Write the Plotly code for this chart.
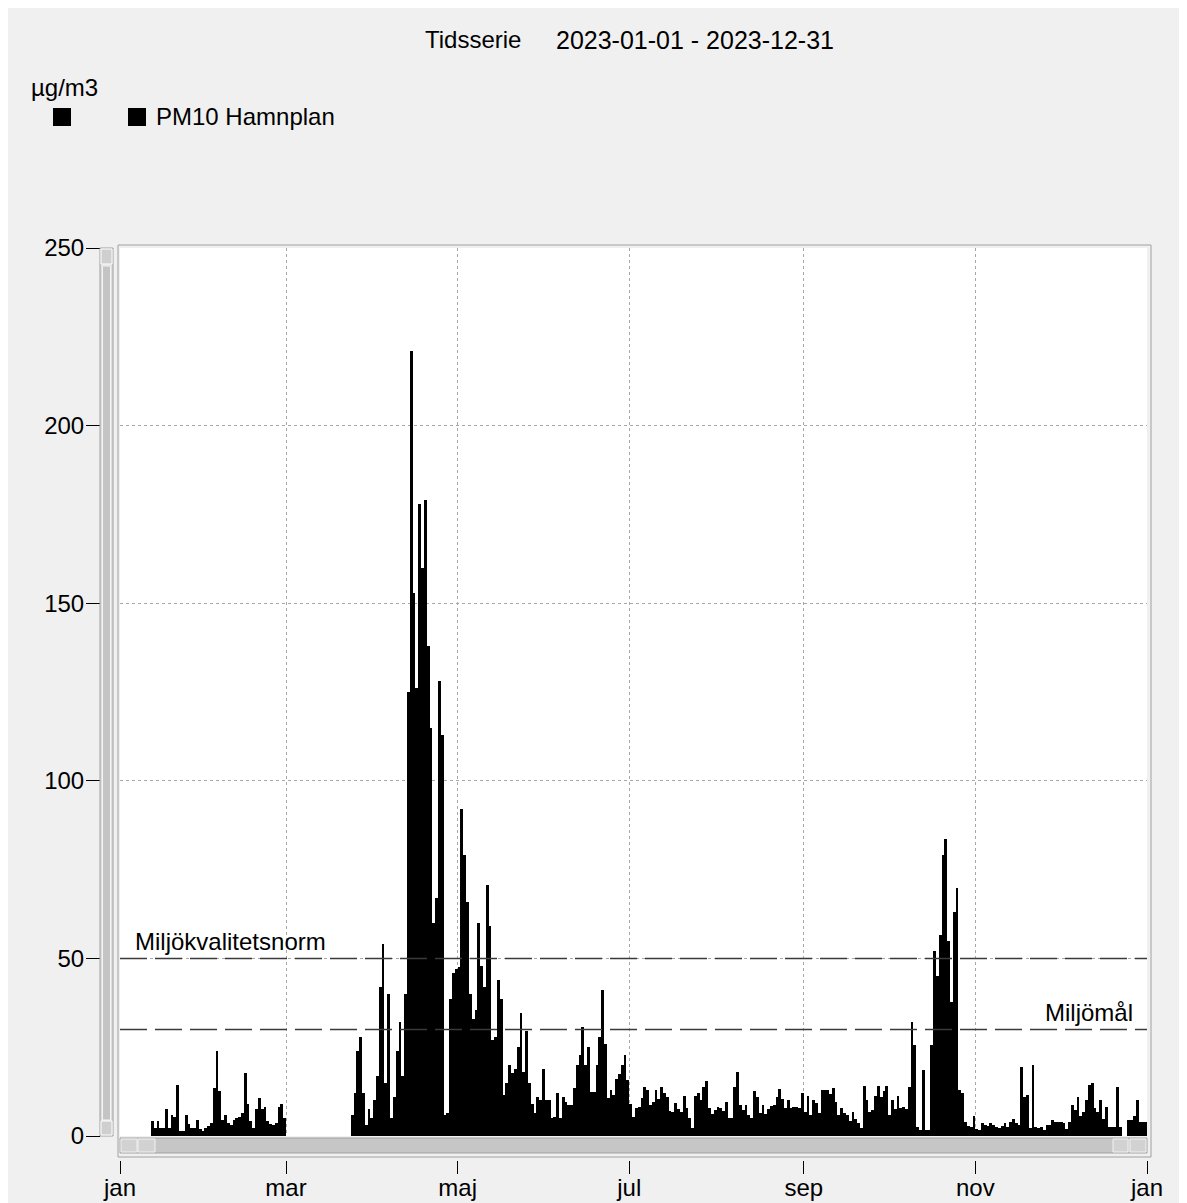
import pandas as pd
import plotly.graph_objects as go

# ---------------- data (daily PM10, µg/m3) ----------------
jan_feb_start = "2023-01-12"
jan_feb_vals = [4.2, 2.3, 4.2, 2.3, 2.3, 7.5, 2.3, 5.8, 5.4, 14.5,
                1.4, 1.4, 5.8, 3.3, 2.2, 2.2, 4.6, 1.9, 1.4, 2.3,
                2.8, 3.8, 13.6, 24, 12.7, 4.6, 5.8, 3.8, 3.1, 4.4,
                5.2, 5.4, 6.6, 17.8, 8.9, 4.2, 2.3, 7.5, 10.6, 7.5,
                8.3, 4.2, 3.3, 3.1, 3.8, 8.2, 8.9, 5.2]

mar_apr_start = "2023-03-24"
mar_apr_vals = [6, 12, 24, 28, 12, 3, 7.5, 5, 10, 17,
                42, 54, 15, 40, 5, 11, 24, 32, 17, 40,
                125, 221, 153, 126, 178, 160, 179, 138, 115, 60,
                67, 128, 113, 5.9, 6.6, 38.7, 46, 47]

maj_jun_start = "2023-05-01"
maj_jun_vals = [47.6, 92, 79, 66, 40, 33, 35.5, 60, 48, 42,
                70.6, 59, 27, 28, 44, 38.7, 11.5, 15, 20, 17.6,
                19, 25, 34.5, 18, 29.6, 15, 9, 6.6, 11, 10,
                19, 10, 10, 5, 5.3, 12, 5, 11, 9.7, 8.7,
                8.7, 13.4, 20, 22.8, 30.6, 20, 25, 12.5, 12.5, 20,
                28, 41, 26, 10.6, 13, 11.5, 16, 17.4, 20, 22.8,
                15.8]

jul_aug_start = "2023-07-01"
jul_aug_vals = [9, 5.4, 7.8, 8.3, 10.6, 13.9, 13, 8.7, 9.7, 13,
                10.3, 13.9, 12.2, 10.9, 7.1, 6.8, 9.2, 7.5, 6.8, 11.3,
                8, 5, 2.2, 11.3, 12.2, 10.1, 13.9, 15.6, 7.8, 6.2,
                7.3, 8.3, 7.8, 7.1, 9.7, 5, 5, 13.9, 18, 8.7,
                7.3, 8.7, 5.9, 5, 12.8, 11, 6.6, 8.7, 6.2, 7.5,
                8.4, 8.7, 10.9, 13.1, 10.3, 7.8, 10.1, 8, 8.3, 8.3,
                8, 12.2]

sep_okt_start = "2023-09-01"
sep_okt_vals = [6.8, 11.3, 5.9, 10, 9.2, 6.6, 13, 13, 13, 11.8,
                13.4, 9.7, 5.9, 7.8, 6.4, 5.9, 4.3, 6.8, 4.7, 3.6,
                2.2, 14, 10, 6.8, 7.3, 11.3, 14, 10.9, 12.8, 14,
                5.9, 10, 7.5, 11.3, 8, 8.3, 7.5, 13.9, 32, 25.6,
                2.6, 1.7, 18.6, 1.7, 1.7, 25.6, 52, 45, 56.6, 79,
                83.5, 55, 37.6, 63, 69.7, 13, 12.2, 4, 2.8, 2.6,
                5.6]

nov_dec_start = "2023-11-01"
nov_dec_vals = [1.9, 1.7, 3.6, 3.1, 2.8, 3.6, 3.1, 2.4, 2.2, 2.8,
                3.6, 2.4, 4, 4.7, 3.6, 3.1, 19.5, 11, 11.5, 2.2,
                20, 2.6, 2.2, 2.6, 1.7, 3.1, 3.1, 4.5, 4, 4,
                4, 3.6, 1.9, 4, 8.7, 7.3, 10.9, 5.6, 6.8, 10.1,
                14.4, 15, 7.8, 6.8, 10.1, 4.7, 8.3, 2.4, 2.4, 2.4,
                13.9, 2.4, None, None, 4.5, 4.5, 5.6, 10, 4, 4,
                4]

segments = [(jan_feb_start, jan_feb_vals), (mar_apr_start, mar_apr_vals),
            (maj_jun_start, maj_jun_vals), (jul_aug_start, jul_aug_vals),
            (sep_okt_start, sep_okt_vals), (nov_dec_start, nov_dec_vals)]

tick_dates = ["2023-01-01", "2023-03-01", "2023-05-01", "2023-07-01",
              "2023-09-01", "2023-11-01", "2024-01-01"]
tick_labels = ["jan", "mar", "maj", "jul", "sep", "nov", "jan"]
y_ticks = [0, 50, 100, 150, 200, 250]
y_grid = [50, 100, 150, 200]

norm_level = 50
norm_label = "Miljökvalitetsnorm"
goal_level = 30
goal_label = "Miljömål"
series_name = "PM10 Hamnplan"
unit_label = "µg/m3"
title_left = "Tidsserie"
title_right = "2023-01-01 - 2023-12-31"

# ---------------- build series ----------------
dates, vals = [], []
for start, v in segments:
    d = pd.date_range(start, periods=len(v), freq="D")
    dates.extend(d)
    vals.extend(v)

# ---------------- geometry helpers (page pixels) ----------------
OFF = 8                       # default body margin of the html page
W, H = 1187 - OFF, 1203 - OFF
ML, MR, MT, MB = 100 - OFF, 40, 248 - OFF, 43
PW, PH = W - ML - MR, H - MT - MB


def px2x(px):
    return (px - OFF - ML) / PW


def py2y(py):
    return (H - MB - (py - OFF)) / PH


FONT = "Liberation Sans, Arial, sans-serif"
FS = 24

fig = go.Figure()
fig.add_trace(go.Bar(
    x=dates, y=vals, name=series_name,
    marker=dict(color="black", line=dict(width=0)),
    xperiod=86400000, xperiodalignment="middle",
    showlegend=False, hoverinfo="x+y"))
# invisible trace to carry the outer (offset) axes
fig.add_trace(go.Scatter(x=[tick_dates[0], tick_dates[-1]], y=[0, 250],
                         xaxis="x2", yaxis="y2", mode="none",
                         showlegend=False, hoverinfo="skip"))

xrange = ["2023-01-01", "2024-01-01"]
fig.update_layout(
    width=W, height=H,
    margin=dict(l=ML, r=MR, t=MT, b=MB, autoexpand=False),
    paper_bgcolor="#f0f0f0",
    plot_bgcolor="white",
    bargap=0,
    font=dict(family=FONT, size=FS, color="black"),
    xaxis=dict(type="date", range=xrange, domain=[px2x(120), 1],
               tickvals=tick_dates, showticklabels=False, ticks="",
               showgrid=True, gridcolor="#a8a8a8", griddash="3px,3px",
               gridwidth=1, zeroline=False, showline=False,
               automargin=False, fixedrange=True),
    yaxis=dict(range=[0, 250], domain=[py2y(1136), 1],
               tickvals=y_grid, showticklabels=False, ticks="",
               showgrid=True, gridcolor="#a8a8a8", griddash="3px,3px",
               gridwidth=1, zeroline=False, showline=False,
               automargin=False, fixedrange=True),
    xaxis2=dict(type="date", range=xrange, overlaying="x", anchor="free",
                position=0, side="bottom", tickvals=tick_dates,
                ticktext=tick_labels, ticks="outside", ticklen=13,
                tickcolor="black", tickwidth=1, showgrid=False,
                zeroline=False, showline=False, automargin=False,
                ticklabelstandoff=-7,
                tickfont=dict(family=FONT, size=FS, color="black")),
    yaxis2=dict(range=[0, 250], overlaying="y", anchor="free", position=0,
                side="left", tickvals=y_ticks, ticks="outside", ticklen=14,
                tickcolor="black", tickwidth=1, showgrid=False,
                zeroline=False, showline=False, automargin=False,
                ticklabelstandoff=-3,
                tickfont=dict(family=FONT, size=FS, color="black")),
)

shapes = []
# reference lines
for lvl in (norm_level, goal_level):
    shapes.append(dict(type="line", xref="x domain", yref="y",
                       x0=0, x1=1, y0=lvl, y1=lvl,
                       line=dict(color="#3a3a3a", width=1.5,
                                 dash="27px,8px")))
# plot frame
shapes.append(dict(type="rect", xref="paper", yref="paper",
                   x0=px2x(118), x1=px2x(1151), y0=py2y(1157), y1=py2y(245),
                   line=dict(color="#a0a0a0", width=1), fillcolor="rgba(0,0,0,0)"))
# vertical scrollbar
shapes.append(dict(type="rect", xref="paper", yref="paper",
                   x0=px2x(100), x1=px2x(113), y0=py2y(1136), y1=py2y(248),
                   fillcolor="#dedede", line=dict(color="#a0a0a0", width=1)))
shapes.append(dict(type="rect", xref="paper", yref="paper",
                   x0=px2x(102.5), x1=px2x(110.5), y0=py2y(1120), y1=py2y(266),
                   fillcolor="#c4c4c4", line=dict(color="#f4f4f4", width=1)))
for a, b in ((249, 264), (1121, 1135)):
    shapes.append(dict(type="rect", xref="paper", yref="paper",
                       x0=px2x(101), x1=px2x(112), y0=py2y(b), y1=py2y(a),
                       fillcolor="#cfcfcf", line=dict(color="#ffffff", width=1)))
# horizontal scrollbar
shapes.append(dict(type="rect", xref="paper", yref="paper",
                   x0=px2x(120), x1=px2x(1147), y0=py2y(1153), y1=py2y(1138),
                   fillcolor="#c6c6c6", line=dict(color="#a0a0a0", width=1)))
for a, b in ((121, 137), (138, 155), (1113, 1128), (1130, 1146)):
    shapes.append(dict(type="rect", xref="paper", yref="paper",
                       x0=px2x(a), x1=px2x(b), y0=py2y(1152), y1=py2y(1139),
                       fillcolor="#d2d2d2", line=dict(color="#f2f2f2", width=1)))
# legend squares
for a in (53, 128):
    shapes.append(dict(type="rect", xref="paper", yref="paper",
                       x0=px2x(a), x1=px2x(a + 18), y0=py2y(126), y1=py2y(108),
                       fillcolor="black", line=dict(width=0)))
fig.update_layout(shapes=shapes)

ann = [
    dict(text=title_left, x=px2x(473), y=py2y(40), xanchor="center"),
    dict(text=title_right, x=px2x(695), y=py2y(40), xanchor="center"),
    dict(text=unit_label, x=px2x(29), y=py2y(88), xanchor="left"),
    dict(text=series_name, x=px2x(154), y=py2y(117), xanchor="left"),
]
for a in ann:
    a.update(xref="paper", yref="paper", yanchor="middle", showarrow=False,
             font=dict(family=FONT, size=FS, color="black"))
ann[1]["font"] = dict(family=FONT, size=25, color="black")
ann.append(dict(text=norm_label, xref="paper", yref="y", x=px2x(133),
                y=norm_level, yshift=17, xanchor="left", yanchor="middle",
                showarrow=False, font=dict(family=FONT, size=FS, color="black")))
ann.append(dict(text=goal_label, xref="paper", yref="y", x=px2x(1135),
                y=goal_level, yshift=17, xanchor="right", yanchor="middle",
                showarrow=False, font=dict(family=FONT, size=FS, color="black")))
fig.update_layout(annotations=ann)

fig.write_html("out.html")
